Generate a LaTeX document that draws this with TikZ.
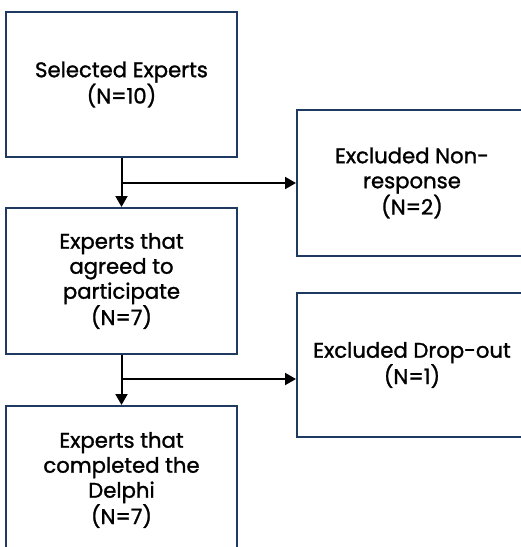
\documentclass[tikz,border=0pt]{standalone}
\usepackage{fontspec}
\setmainfont{Poppins}
\newfontfamily\boxfont{Poppins}[FakeBold=1.3]
\usetikzlibrary{arrows.meta}
\definecolor{boxline}{HTML}{1F3A60}
\tikzset{
  stagebox/.style={draw=boxline, line width=2pt, fill=white, align=center,
    font=\boxfont\fontsize{21.2}{25}\selectfont, text=black, inner sep=0pt},
  flow/.style={draw=black, line width=2pt,
    -{Triangle[length=11pt,width=12pt]}}
}
\begin{document}
\begin{tikzpicture}[x=1pt,y=-1pt]
\useasboundingbox (0,0) rectangle (521,547);
\clip (0,0) rectangle (521,547);
\fill[white] (0,0) rectangle (521,547);

\node[stagebox, minimum width=231pt, minimum height=145pt] (sel) at (121.5,84.5)
  {Selected Experts\\(N=10)};
\node[stagebox, minimum width=231pt, minimum height=146pt] (agr) at (121.5,281)
  {Experts that\\agreed to\\participate\\(N=7)};
\node[stagebox, minimum width=231pt, minimum height=148pt] (com) at (121.5,480)
  {Experts that\\completed the\\Delphi\\(N=7)};
\node[stagebox, minimum width=230pt, minimum height=146pt] (non) at (412,183)
  {Excluded Non-\\response\\(N=2)};
\node[stagebox, minimum width=230pt, minimum height=144pt] (drop) at (412,365)
  {Excluded Drop-out\\(N=1)};

\coordinate (j1) at (sel.south |- 0,183);
\coordinate (j2) at (agr.south |- 0,379);

\draw[flow] (sel.south) -- (agr.north);
\draw[flow] (j1) -- (non.west |- j1);
\draw[flow] (agr.south) -- (com.north);
\draw[flow] (j2) -- (drop.west |- j2);
\end{tikzpicture}
\end{document}
